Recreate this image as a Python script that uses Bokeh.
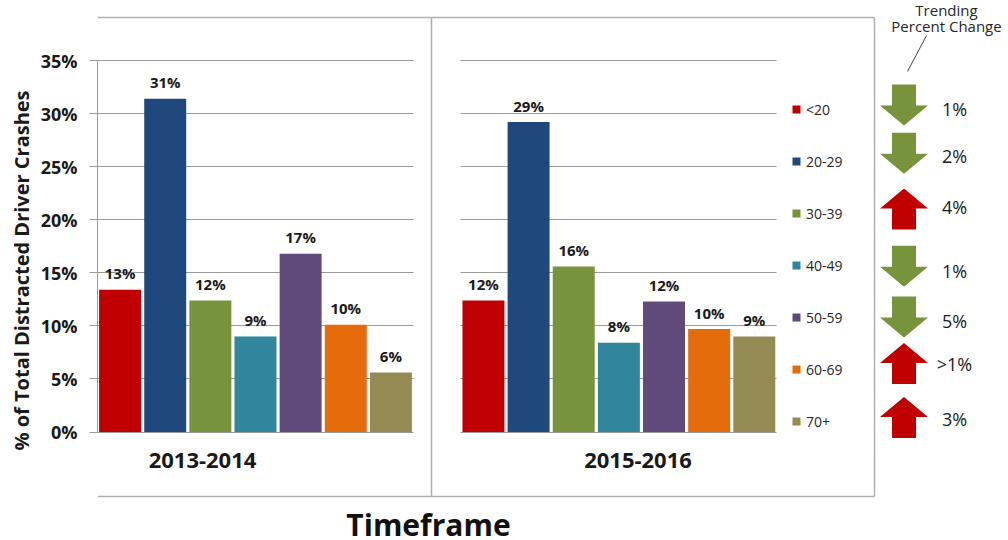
from bokeh.plotting import figure
from bokeh.models import ColumnDataSource, FixedTicker, Grid, PrintfTickFormatter, Range1d
from bokeh.core.properties import value
from bokeh.embed import file_html
from bokeh.resources import INLINE

# ---------------- data ----------------
timeframes = ["2013-2014", "2015-2016"]
age_groups = ["<20", "20-29", "30-39", "40-49", "50-59", "60-69", "70+"]
share_2013_2014 = [13.4, 31.4, 12.4, 9.0, 16.8, 10.1, 5.6]
share_2015_2016 = [12.4, 29.2, 15.6, 8.4, 12.3, 9.7, 9.0]
age_colors = ["#C00000", "#1F497D", "#77933C", "#31859C", "#604A7B", "#E46C0A", "#948A54"]
trend_direction = ["down", "down", "up", "down", "down", "up", "up"]
trend_labels = ["1%", "2%", "4%", "1%", "5%", ">1%", "3%"]
y_ticks = [0, 5, 10, 15, 20, 25, 30, 35]

# ---------------- layout (page pixels) ----------------
W, H = 1008, 540
AXIS_X_PX = 97.0
SLOT_PX = 45.14
ZERO_Y_PX = 431.5
PX_PER_PCT = 10.614
group_offsets = [0.0, 8.05]
bar_width = 0.93
label_gap_px = 16.5
category_label_x_px = [202.0, 637.5]
category_label_y_px = 459.5
arrow_cx_px = 903.5
arrow_cy_px = [104.5, 152.7, 208.6, 265.7, 316.5, 363.0, 417.0]
trend_label_x_px = 954.0
trend_label_y_px = [108.4, 155.6, 206.5, 270.2, 320.0, 363.0, 418.2]
GRID_COLOR = "#9a9a9a"
BOX_COLOR = "#b0b0b0"
FONT = "Open Sans"


def px2x(xp):
    return (xp - AXIS_X_PX) / SLOT_PX


def px2y(yp):
    return (ZERO_Y_PX - yp) / PX_PER_PCT


p = figure(
    width=W, height=H,
    x_range=Range1d(px2x(AXIS_X_PX), px2x(W)),
    y_range=Range1d(px2y(H), px2y(0)),
    output_backend="svg", toolbar_location=None, x_axis_location=None,
    min_border_left=int(AXIS_X_PX), min_border_right=0,
    min_border_top=0, min_border_bottom=0,
    outline_line_color=None, background_fill_color="white", border_fill_color="white",
)
p.grid.visible = False

# y axis
ya = p.yaxis[0]
ya.ticker = FixedTicker(ticks=y_ticks, minor_ticks=[])
ya.bounds = (0, 35)
ya.formatter = PrintfTickFormatter(format="%d%%")
ya.axis_line_color = GRID_COLOR
ya.major_tick_line_color = GRID_COLOR
ya.major_tick_out = 8
ya.major_tick_in = 0
ya.minor_tick_line_color = None
ya.major_label_text_font = FONT
ya.major_label_text_font_size = "18px"
ya.major_label_text_font_style = "bold"
ya.major_label_text_color = "#1a1a1a"
ya.major_label_standoff = 12
ya.axis_label = "% of Total Distracted Driver Crashes"
ya.axis_label_text_font = FONT
ya.axis_label_text_font_size = "20px"
ya.axis_label_text_font_style = "bold"
ya.axis_label_text_color = "#1a1a1a"
ya.axis_label_standoff = 3

# gridlines for each panel
for go in group_offsets:
    p.add_layout(Grid(dimension=1, ticker=FixedTicker(ticks=y_ticks),
                      cross_bounds=(go - 0.01, go + len(age_groups)),
                      grid_line_color=GRID_COLOR, grid_line_width=1))

# panel boxes (inside the frame)
box_xs = [
    [px2x(AXIS_X_PX), px2x(874)],
    [px2x(431), px2x(431)],
    [px2x(874), px2x(874)],
    [px2x(AXIS_X_PX), px2x(874)],
]
box_ys = [
    [px2y(17), px2y(17)],
    [px2y(17), px2y(496)],
    [px2y(17), px2y(496)],
    [px2y(496), px2y(496)],
]
p.multi_line(xs=box_xs, ys=box_ys, line_color=BOX_COLOR, line_width=1.5)

# bars
xs, tops, cols, ages, labs, laby = [], [], [], [], [], []
for gi, vals in enumerate([share_2013_2014, share_2015_2016]):
    for ai, v in enumerate(vals):
        xs.append(group_offsets[gi] + ai + 0.5)
        tops.append(v)
        cols.append(age_colors[ai])
        ages.append(age_groups[ai])
        labs.append(f"{round(v)}%")
        laby.append(v + label_gap_px / PX_PER_PCT)
src = ColumnDataSource(dict(x=xs, top=tops, color=cols, age=ages, label=labs, label_y=laby))
p.vbar(x="x", top="top", bottom=0, width=bar_width, fill_color="color", line_color=None,
       source=src, legend_field="age")
p.text(x="x", y="label_y", text="label", source=src, text_align="center", text_baseline="middle",
       text_font=value(FONT), text_font_style="bold", text_font_size="15px", text_color="#1a1a1a")

# category labels
p.text(x=[px2x(v) for v in category_label_x_px], y=[px2y(category_label_y_px)] * 2, text=timeframes,
       text_align="center", text_baseline="middle", text_font=value(FONT), text_font_style="bold",
       text_font_size="22px", text_color="#1a1a1a")

# x axis title
p.text(x=[px2x(428)], y=[px2y(524)], text=["Timeframe"], text_align="center",
       text_baseline="alphabetic", text_font=value(FONT), text_font_style="bold",
       text_font_size="30px", text_color="#111111")

# legend
lg = p.legend[0]
lg.location = (694, 109)
lg.orientation = "vertical"
lg.padding = 0
lg.margin = 0
lg.spacing = 32
lg.glyph_width = 10
lg.glyph_height = 10
lg.label_height = 20
lg.label_standoff = 5
lg.label_text_font = FONT
lg.label_text_font_size = "14px"
lg.label_text_color = "#262626"
lg.background_fill_alpha = 0
lg.border_line_color = None

# trending arrows
half_h, head_len, head_hw, shaft_hw = 20.5, 20.0, 24.0, 12.0
arr_xs, arr_ys, arr_cols = [], [], []
for d, cy in zip(trend_direction, arrow_cy_px):
    cx = arrow_cx_px
    top = cy - half_h
    tip = cy + half_h
    hb = tip - head_len
    pts = [(cx - shaft_hw, top), (cx + shaft_hw, top), (cx + shaft_hw, hb), (cx + head_hw, hb),
           (cx, tip), (cx - head_hw, hb), (cx - shaft_hw, hb)]
    if d == "up":
        pts = [(x, 2 * cy - y) for x, y in pts]
    arr_xs.append([px2x(x) for x, _ in pts])
    arr_ys.append([px2y(y) for _, y in pts])
    arr_cols.append("#77933C" if d == "down" else "#C00000")
p.patches(xs=arr_xs, ys=arr_ys, fill_color=arr_cols, line_color=None)

p.text(x=[px2x(trend_label_x_px)] * len(trend_labels), y=[px2y(v) for v in trend_label_y_px],
       text=trend_labels, text_align="center", text_baseline="middle", text_font=value(FONT),
       text_font_size="18px", text_color="#1a1a1a")

# trending header
p.text(x=[px2x(946), px2x(946)], y=[px2y(9), px2y(25)], text=["Trending", "Percent Change"],
       text_align="center", text_baseline="middle", text_font=value(FONT),
       text_font_size="15px", text_color="#262626")
p.segment(x0=[px2x(926)], y0=[px2y(35)], x1=[px2x(907)], y1=[px2y(71)],
          line_color="#404040", line_width=1)

open("out.html", "w").write(file_html(p, INLINE))
